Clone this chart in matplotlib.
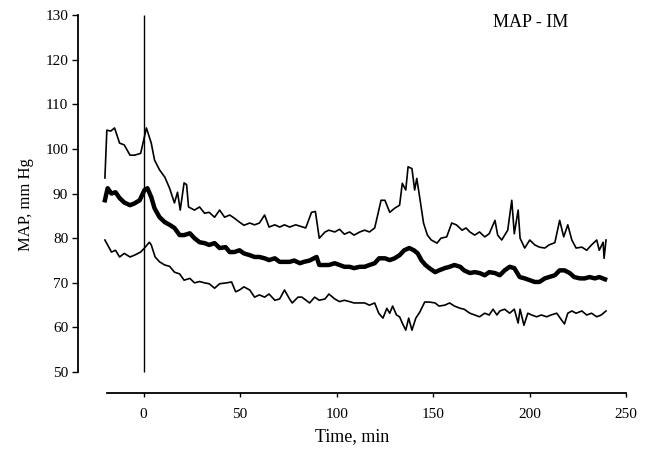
import numpy as np
import matplotlib.pyplot as plt

plt.rcParams['font.family'] = ['Liberation Serif', 'DejaVu Serif']

# upper curve (mean + SD)
t_up = [-20, -19, -17, -15, -12.4, -10, -7, -4.7, -1.5, 1.5, 4, 5.7, 8.3, 11, 13.5, 16,
        17.6, 19, 21, 22.3, 23.3, 26.4, 29, 31.6, 34, 36.8, 39.4, 42, 44.6, 47, 49.7,
        52, 55, 57.5, 60, 62.7, 65, 68, 70.5, 73, 75.6, 78.8, 84, 87, 89, 91, 94, 96,
        99, 101.5, 104, 106.7, 109, 112, 114.5, 117, 119.7, 121, 123, 125, 127.5, 130,
        132.6, 134, 135.8, 137, 139, 140.4, 141.5, 143, 145, 147, 149, 152, 154, 157,
        159.6, 162, 165, 167, 169, 171.5, 174, 176.7, 179, 182, 183.4, 185.5, 188.6,
        190.7, 192, 194, 195, 197.4, 200, 202.6, 205, 207.8, 210, 213, 215.5, 217.6,
        219.7, 221.8, 224, 227, 229.5, 232, 234.7, 236, 238, 238.5, 239.5]
v_up = [93.5, 104.2, 104.0, 104.7, 101.3, 100.9, 98.6, 98.6, 99.0, 104.7, 101.3, 97.5,
        95.3, 93.7, 91.2, 87.9, 90.3, 86.3, 92.4, 92.0, 87.0, 86.3, 87.0, 85.6, 85.8,
        84.7, 86.3, 84.7, 85.2, 84.5, 83.6, 82.9, 83.4, 83.0, 83.4, 85.2, 82.5, 83.0,
        82.5, 83.0, 82.5, 83.0, 82.3, 85.8, 86.0, 80.0, 81.4, 81.8, 81.4, 82.0, 80.9,
        81.4, 80.7, 81.4, 81.8, 81.4, 82.3, 84.7, 88.5, 88.5, 85.8, 86.7, 87.4, 92.3,
        90.8, 96.0, 95.6, 90.8, 93.4, 89.2, 83.4, 80.7, 79.6, 78.9, 80.0, 80.3, 83.4,
        83.0, 81.8, 82.3, 81.4, 80.7, 81.4, 80.3, 81.0, 84.0, 80.7, 79.6, 81.8, 88.5,
        81.0, 86.3, 80.0, 77.8, 79.6, 78.5, 78.0, 77.8, 78.5, 79.0, 84.0, 80.3, 83.0,
        79.6, 77.8, 78.0, 77.3, 78.5, 79.6, 77.3, 79.1, 75.5, 79.6]

# mean curve
t_mean = [-20, -18.6, -16.6, -14.5, -12.4, -10, -7, -4.7, -2, 0.5, 2, 4, 5.7, 8.3, 11,
          13.5, 16, 18.7, 21, 24, 26.4, 29, 31.6, 34, 36.8, 39.4, 42.5, 44.6, 47, 49.7,
          52, 55, 57.5, 60, 62.7, 65, 68, 70.5, 73, 75.6, 78, 81, 83, 86, 89.6, 91, 94,
          96, 99, 101.5, 104, 106.7, 109, 112, 114.5, 117, 119.7, 122, 125, 127.5, 130,
          132.6, 135, 137.6, 140, 142, 144, 146, 148, 151, 153, 156, 158.5, 161, 164,
          166, 169, 171.5, 174, 176.7, 179, 182, 184.5, 187, 189.6, 192, 194.8, 197.4,
          200, 202.6, 205, 207.8, 210, 213, 215.5, 218, 220.7, 223, 226, 228.5, 231,
          233.7, 236, 239]
v_mean = [88.5, 91.2, 90.0, 90.3, 89.0, 88.0, 87.4, 87.8, 88.5, 90.8, 91.2, 89.2, 86.7,
          84.7, 83.6, 83.0, 82.3, 80.7, 80.7, 81.1, 80.0, 79.1, 78.9, 78.5, 78.9, 77.8,
          78.0, 76.9, 76.9, 77.3, 76.6, 76.2, 75.8, 75.8, 75.5, 75.1, 75.5, 74.7, 74.7,
          74.7, 75.0, 74.4, 74.7, 75.0, 75.8, 74.0, 74.0, 74.0, 74.4, 74.0, 73.6, 73.6,
          73.3, 73.6, 73.6, 74.0, 74.4, 75.5, 75.5, 75.1, 75.5, 76.2, 77.3, 77.8, 77.3,
          76.6, 75.0, 74.0, 73.3, 72.4, 72.8, 73.3, 73.6, 74.0, 73.6, 72.8, 72.2, 72.4,
          72.2, 71.7, 72.4, 72.2, 71.7, 72.8, 73.6, 73.3, 71.3, 71.0, 70.6, 70.2, 70.2,
          71.0, 71.3, 71.7, 72.8, 72.8, 72.2, 71.3, 71.0, 71.0, 71.3, 71.0, 71.3, 70.8]

# lower curve (mean - SD)
t_lo = [-20, -18.6, -16.6, -14.5, -12.4, -10, -7, -4.7, -1.5, 0.5, 3, 4, 6, 8.3, 11,
        13.5, 16, 18.7, 21, 24, 26.4, 29, 31.6, 34, 36.8, 39.4, 43, 45.6, 47.7, 49.7,
        52, 55, 57.5, 60, 62.7, 65, 68, 70.5, 73, 75.6, 77, 80, 82, 86, 88.6, 91, 94,
        96, 99, 101.5, 104, 106.7, 109, 112, 114.5, 117, 119.7, 121.8, 124, 126, 127.5,
        129, 131, 132.6, 134, 135.8, 137.3, 139, 141, 143, 145.6, 148, 151, 153, 156,
        158.5, 161, 164, 166, 169, 171.5, 174, 176.7, 179, 181, 183, 184.5, 187, 189.6,
        192, 194, 195, 197, 199, 201, 203.6, 206, 208.8, 211, 214, 216.6, 218, 219.7,
        221.8, 224, 227, 229.5, 232, 234.7, 237, 239.5]
v_lo = [79.6, 78.5, 76.9, 77.3, 75.8, 76.6, 75.8, 76.2, 76.9, 77.8, 79.1, 78.5, 75.8,
        74.7, 74.0, 73.7, 72.4, 72.0, 70.6, 71.0, 70.0, 70.3, 70.0, 69.8, 68.8, 69.8,
        70.0, 70.2, 68.0, 68.4, 69.1, 68.4, 66.8, 67.3, 66.8, 67.5, 66.1, 66.4, 68.4,
        66.4, 65.5, 66.8, 66.8, 65.5, 66.8, 66.1, 66.4, 67.5, 66.4, 65.8, 66.1, 65.8,
        65.5, 65.5, 65.5, 65.0, 65.5, 63.2, 62.1, 64.3, 63.2, 64.8, 62.8, 62.4, 61.0,
        59.4, 62.1, 59.4, 62.1, 63.4, 65.7, 65.7, 65.5, 64.8, 65.0, 65.5, 64.8, 64.3,
        64.1, 63.2, 62.8, 62.4, 63.2, 62.8, 64.1, 62.8, 63.7, 64.1, 63.2, 64.1, 61.0,
        64.1, 60.5, 63.2, 62.8, 62.4, 62.8, 62.4, 62.8, 63.2, 61.6, 60.8, 63.2, 63.7,
        63.2, 63.7, 62.8, 63.2, 62.4, 62.8, 63.7]

x_ticks = [0, 50, 100, 150, 200, 250]
y_ticks = [50, 60, 70, 80, 90, 100, 110, 120, 130]
event_time = 0

fig = plt.figure(figsize=(6.49, 4.55), dpi=100)
ax = fig.add_axes([0.120, 0.136, 0.845, 0.831])

ax.plot(t_up, v_up, color='k', lw=1.2)
ax.plot(t_mean, v_mean, color='k', lw=3.2, solid_joinstyle='round')
ax.plot(t_lo, v_lo, color='k', lw=1.2)
ax.vlines(event_time, 50, 130, color='k', lw=1.0)

ax.set_xlim(-34, 250)
ax.set_ylim(45.3, 130)
ax.spines['top'].set_visible(False)
ax.spines['right'].set_visible(False)
ax.spines['left'].set_bounds(50, 130)
ax.spines['bottom'].set_bounds(-19, 250)
ax.spines['left'].set_linewidth(1.3)
ax.spines['bottom'].set_linewidth(1.3)

ax.set_xticks(x_ticks)
ax.set_yticks(y_ticks)
ax.tick_params(axis='y', direction='out', length=4, width=1, labelsize=11, pad=3)
ax.tick_params(axis='x', direction='out', length=3, width=1, labelsize=11, pad=8)

ax.set_xlabel('Time, min', fontsize=13, labelpad=5)
ax.set_ylabel('MAP, mm Hg', fontsize=12, labelpad=8)
ax.text(0.825, 0.979, 'MAP - IM', transform=ax.transAxes, ha='center', va='center',
        fontsize=13)

fig.savefig('out.png', dpi=100)
